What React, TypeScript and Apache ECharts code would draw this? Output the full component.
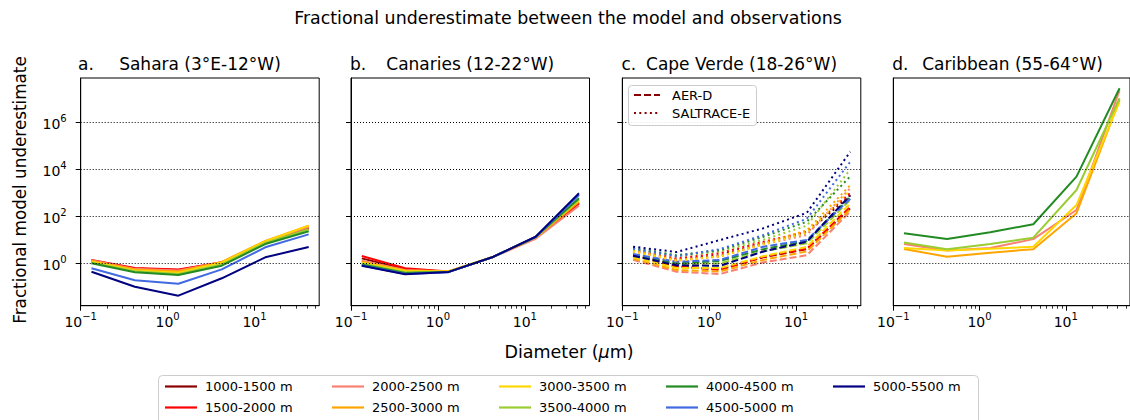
import React, { useEffect, useRef } from "react";
import * as echarts from "echarts";

// ---------- data ----------
const diameters = [0.133, 0.42, 1.33, 4.2, 13.3, 42]; // µm

const altitudes = [
  "1000-1500 m", "1500-2000 m", "2000-2500 m", "2500-3000 m", "3000-3500 m",
  "3500-4000 m", "4000-4500 m", "4500-5000 m", "5000-5500 m",
];
const altitudeColors = [
  "#8B0000", "#FF0000", "#FA8072", "#FFA500", "#FFD700",
  "#9ACD32", "#228B22", "#4169E1", "#000080",
];

// a. Sahara
const saharaValues = [
  [1.32, 0.6, 0.52, 1.07, 7.6, 30],
  [1.38, 0.63, 0.54, 1.1, 7.9, 32],
  [1.35, 0.58, 0.49, 1.12, 8.5, 35],
  [1.26, 0.54, 0.45, 1.15, 8.9, 40],
  [1.17, 0.5, 0.4, 1.07, 8.5, 40],
  [1.07, 0.46, 0.35, 0.89, 7.4, 28],
  [1.0, 0.42, 0.32, 0.79, 6.6, 23],
  [0.62, 0.19, 0.135, 0.55, 4.8, 17],
  [0.44, 0.1, 0.042, 0.23, 1.8, 4.9],
];

// b. Canaries
const canariesValues = [
  [1.62, 0.56, 0.44, 1.8, 13, 380],
  [2.04, 0.62, 0.45, 1.8, 12.6, 355],
  [1.29, 0.52, 0.44, 1.75, 11, 280],
  [1.17, 0.49, 0.46, 1.8, 12.6, 420],
  [1.05, 0.47, 0.45, 1.8, 13, 490],
  [0.98, 0.42, 0.44, 1.8, 13, 525],
  [0.89, 0.39, 0.43, 1.78, 13, 590],
  [0.81, 0.35, 0.42, 1.78, 13.2, 810],
  [0.78, 0.34, 0.43, 1.8, 13.5, 955],
];

// c. Cape Verde, AER-D campaign (dashed)
const capeVerdeAerD = [
  [2.2, 0.71, 0.56, 1.8, 4.0, 220],
  [2.4, 0.79, 0.52, 1.9, 4.2, 250],
  [1.4, 0.44, 0.35, 1.1, 2.2, 160],
  [1.6, 0.52, 0.45, 1.4, 3.2, 200],
  [1.8, 0.63, 0.63, 2.0, 5.0, 350],
  [2.0, 0.89, 1.0, 3.2, 7.1, 500],
  [2.2, 1.0, 1.26, 4.0, 8.9, 710],
  [2.5, 1.17, 1.38, 5.1, 9.8, 560],
  [2.1, 0.83, 0.78, 3.2, 8.3, 790],
];

// c. Cape Verde, SALTRACE-E campaign (dotted)
const capeVerdeSaltrace = [
  [3.5, 1.4, 2.2, 7.1, 20, 790],
  [4.0, 1.6, 2.7, 8.3, 22, 1000],
  [3.2, 1.26, 2.0, 6.3, 16, 1600],
  [3.5, 1.4, 1.9, 7.1, 25, 2100],
  [3.2, 1.3, 2.0, 6.3, 20, 1260],
  [4.0, 2.0, 3.2, 10, 40, 10000],
  [4.5, 2.2, 3.6, 13.5, 59, 5000],
  [4.2, 2.0, 4.0, 16, 79, 21000],
  [5.1, 3.0, 9.8, 31, 141, 56000],
];

// d. Caribbean (only some altitudes)
const caribbeanAltitudes = ["2000-2500 m", "2500-3000 m", "3000-3500 m", "3500-4000 m", "4000-4500 m"];
const caribbeanValues = [
  [6.6, 3.5, 4.5, 10.7, 186, 2.3e7],
  [4.1, 1.9, 2.8, 4.0, 135, 8.9e6],
  [4.5, 3.5, 4.2, 5.1, 300, 7.6e6],
  [7.6, 4.0, 6.6, 12.3, 1320, 1.05e7],
  [19, 10.7, 21, 46, 4900, 2.8e7],
];

const panelLetters = ["a.", "b.", "c.", "d."];
const panelTitles = [
  "Sahara (3°E-12°W)",
  "Canaries (12-22°W)",
  "Cape Verde (18-26°W)",
  "Caribbean (55-64°W)",
];
const campaignNames = ["AER-D", "SALTRACE-E"];

// tick exponents (powers of ten)
const xMajorExponents = [-1, 0, 1];
const yMajorExponents = [0, 2, 4, 6];
const xMinorMultipliers = [2, 3, 4, 5, 6, 7, 8, 9];
const xRange = [0.1, 55.5];
const yRange = [0.0157, 7.67e7];

// ---------- layout ----------
const FONT = "DejaVu Sans";
const panelLefts = [80.7, 351, 622.3, 893.3];
const panelLetterX = [78, 350, 621.5, 892.3];
const panelWidth = 238.5;
const panelTop = 78;
const panelHeight = 227.7;

const lg = Math.log10;

function supLabel(v: number) {
  const e = v < 0 ? "\u2212" + Math.abs(v) : String(v);
  return `{b|10}{s|${e}}`;
}
const supRich = {
  b: { fontSize: 14, fontFamily: FONT, color: "#000", lineHeight: 17, verticalAlign: "bottom" },
  s: { fontSize: 10, fontFamily: FONT, color: "#000", lineHeight: 10, verticalAlign: "top" },
};

function toPoints(vals: number[]) {
  return diameters.map((d, k) => [lg(d), lg(vals[k])]);
}

function buildOption() {
  const grid: any[] = [];
  const xAxis: any[] = [];
  const yAxis: any[] = [];
  const series: any[] = [];
  const xMin = lg(xRange[0]);
  const xMax = lg(xRange[1]);
  const minorX: number[] = [];
  [-1, 0, 1].forEach((p) =>
    xMinorMultipliers.forEach((m) => {
      const v = p + lg(m);
      if (v <= xMax) minorX.push(v);
    })
  );

  for (let i = 0; i < 4; i++) {
    grid.push({
      left: panelLefts[i],
      top: panelTop,
      width: panelWidth,
      height: panelHeight,
      show: true,
      borderColor: "#000",
      borderWidth: 1,
      backgroundColor: "transparent",
    });
    xAxis.push({
      type: "value",
      gridIndex: i,
      min: xMin,
      max: xMax,
      position: "bottom",
      axisLine: { show: true, onZero: false, lineStyle: { color: "#000", width: 1 } },
      axisTick: { show: true, customValues: xMajorExponents, length: 5, lineStyle: { color: "#000", width: 1 } },
      axisLabel: {
        show: true,
        customValues: xMajorExponents,
        formatter: (v: number) => supLabel(Math.round(v)),
        rich: supRich,
        margin: 6,
      },
      splitLine: { show: false },
    });
    xAxis.push({
      type: "value",
      gridIndex: i,
      min: xMin,
      max: xMax,
      position: "bottom",
      axisLine: { show: false, onZero: false },
      axisTick: { show: true, customValues: minorX, length: 3, lineStyle: { color: "#000", width: 0.8 } },
      axisLabel: { show: false },
      splitLine: { show: false },
    });
    yAxis.push({
      type: "value",
      gridIndex: i,
      min: lg(yRange[0]),
      max: lg(yRange[1]),
      axisLine: { show: true, onZero: false, lineStyle: { color: "#000", width: 1 } },
      axisTick: { show: true, customValues: yMajorExponents, length: 5, lineStyle: { color: "#000", width: 1 } },
      axisLabel: {
        show: i === 0,
        customValues: yMajorExponents,
        formatter: (v: number) => supLabel(Math.round(v)),
        rich: supRich,
        margin: 14,
      },
      splitLine: { show: false },
    });
    // dotted horizontal grid lines
    series.push({
      type: "line",
      name: "grid" + i,
      xAxisIndex: 2 * i,
      yAxisIndex: i,
      data: [],
      z: 1,
      silent: true,
      markLine: {
        silent: true,
        symbol: ["none", "none"],
        label: { show: false },
        lineStyle: { color: "#000", type: [1, 2], width: 1 },
        data: yMajorExponents.map((v) => ({ yAxis: v })),
      },
    });
  }

  const addLine = (panel: number, name: string, color: string, vals: number[], dash: any) => {
    series.push({
      type: "line",
      name,
      xAxisIndex: 2 * panel,
      yAxisIndex: panel,
      data: toPoints(vals),
      symbol: "none",
      showSymbol: false,
      z: 2,
      lineStyle: { color, width: 2, type: dash },
      itemStyle: { color },
    });
  };

  altitudes.forEach((name, k) => addLine(0, name, altitudeColors[k], saharaValues[k], "solid"));
  altitudes.forEach((name, k) => addLine(1, name, altitudeColors[k], canariesValues[k], "solid"));
  altitudes.forEach((name, k) => addLine(2, name, altitudeColors[k], capeVerdeAerD[k], [7, 3]));
  altitudes.forEach((name, k) => addLine(2, name, altitudeColors[k], capeVerdeSaltrace[k], [2, 3.3]));
  caribbeanAltitudes.forEach((name, k) => {
    const idx = altitudes.indexOf(name);
    addLine(3, name, altitudeColors[idx], caribbeanValues[k], "solid");
  });

  // bottom legend: 5 columns x 2 rows, column-major order
  const legend: any[] = altitudes.map((name, k) => {
    const col = Math.floor(k / 2);
    const row = k % 2;
    return {
      data: [{ name, icon: "rect", itemStyle: { color: altitudeColors[k] } }],
      left: 165 + col * 167,
      top: (row === 0 ? 388 : 409) - 8,
      padding: 0,
      itemWidth: 32,
      itemHeight: 2.2,
      itemGap: 0,
      textStyle: { fontSize: 13, fontFamily: FONT, color: "#000", padding: [0, 0, 0, 3] },
    };
  });

  const graphic: any[] = [
    {
      type: "rect",
      z: 0,
      shape: { x: 158.5, y: 375.5, width: 820, height: 60, r: 4 },
      style: { fill: "rgba(255,255,255,0.8)", stroke: "#cccccc", lineWidth: 1 },
    },
    {
      type: "text",
      x: 568,
      y: 18,
      style: {
        text: "Fractional underestimate between the model and observations",
        fontSize: 17.4,
        fontFamily: FONT,
        fill: "#000",
        textAlign: "center",
        textVerticalAlign: "middle",
      },
    },
    {
      type: "text",
      x: 20,
      y: 190,
      rotation: Math.PI / 2,
      style: {
        text: "Fractional model underestimate",
        fontSize: 16.8,
        fontFamily: FONT,
        fill: "#000",
        textAlign: "center",
        textVerticalAlign: "middle",
      },
    },
    {
      type: "text",
      x: 569,
      y: 352,
      style: {
        text: "{a|Diameter (}{i|μ}{a|m)}",
        rich: {
          a: { fontSize: 17.5, fontFamily: FONT, fill: "#000", color: "#000" },
          i: { fontSize: 17.5, fontFamily: FONT, fontStyle: "italic", fill: "#000", color: "#000" },
        },
        textAlign: "center",
        textVerticalAlign: "middle",
      },
    },
    // Cape Verde inner legend
    {
      type: "rect",
      z: 10,
      shape: { x: 628.5, y: 85.5, width: 128, height: 40, r: 3 },
      style: { fill: "rgba(255,255,255,0.9)", stroke: "#cccccc", lineWidth: 1 },
    },
    {
      type: "line",
      z: 11,
      shape: { x1: 634, y1: 95, x2: 660, y2: 95 },
      style: { stroke: "#8B0000", lineWidth: 2, lineDash: [7, 3] },
    },
    {
      type: "line",
      z: 11,
      shape: { x1: 634, y1: 113, x2: 660, y2: 113 },
      style: { stroke: "#8B0000", lineWidth: 2, lineDash: [2, 3.3] },
    },
    {
      type: "text",
      z: 11,
      x: 672,
      y: 95,
      style: { text: campaignNames[0], fontSize: 13, fontFamily: FONT, fill: "#000", textAlign: "left", textVerticalAlign: "middle" },
    },
    {
      type: "text",
      z: 11,
      x: 672,
      y: 113,
      style: { text: campaignNames[1], fontSize: 13, fontFamily: FONT, fill: "#000", textAlign: "left", textVerticalAlign: "middle" },
    },
  ];

  for (let i = 0; i < 4; i++) {
    graphic.push({
      type: "text",
      x: panelLetterX[i],
      y: 64,
      style: { text: panelLetters[i], fontSize: 17, fontFamily: FONT, fill: "#000", textAlign: "left", textVerticalAlign: "middle" },
    });
    graphic.push({
      type: "text",
      x: panelLefts[i] + panelWidth / 2,
      y: 64,
      style: { text: panelTitles[i], fontSize: 17, fontFamily: FONT, fill: "#000", textAlign: "center", textVerticalAlign: "middle" },
    });
  }

  return {
    animation: false,
    backgroundColor: "#fff",
    textStyle: { fontFamily: FONT },
    grid,
    xAxis,
    yAxis,
    series,
    legend,
    graphic,
  };
}

export default function App() {
  const ref = useRef<HTMLDivElement>(null);
  useEffect(() => {
    if (!ref.current) return;
    const chart = echarts.init(ref.current, undefined, { renderer: "svg" });
    chart.setOption(buildOption() as any);
    return () => chart.dispose();
  }, []);
  return (
    <div
      ref={ref}
      style={{ position: "absolute", left: 0, top: 0, width: 1130, height: 420, background: "#fff" }}
    />
  );
}
